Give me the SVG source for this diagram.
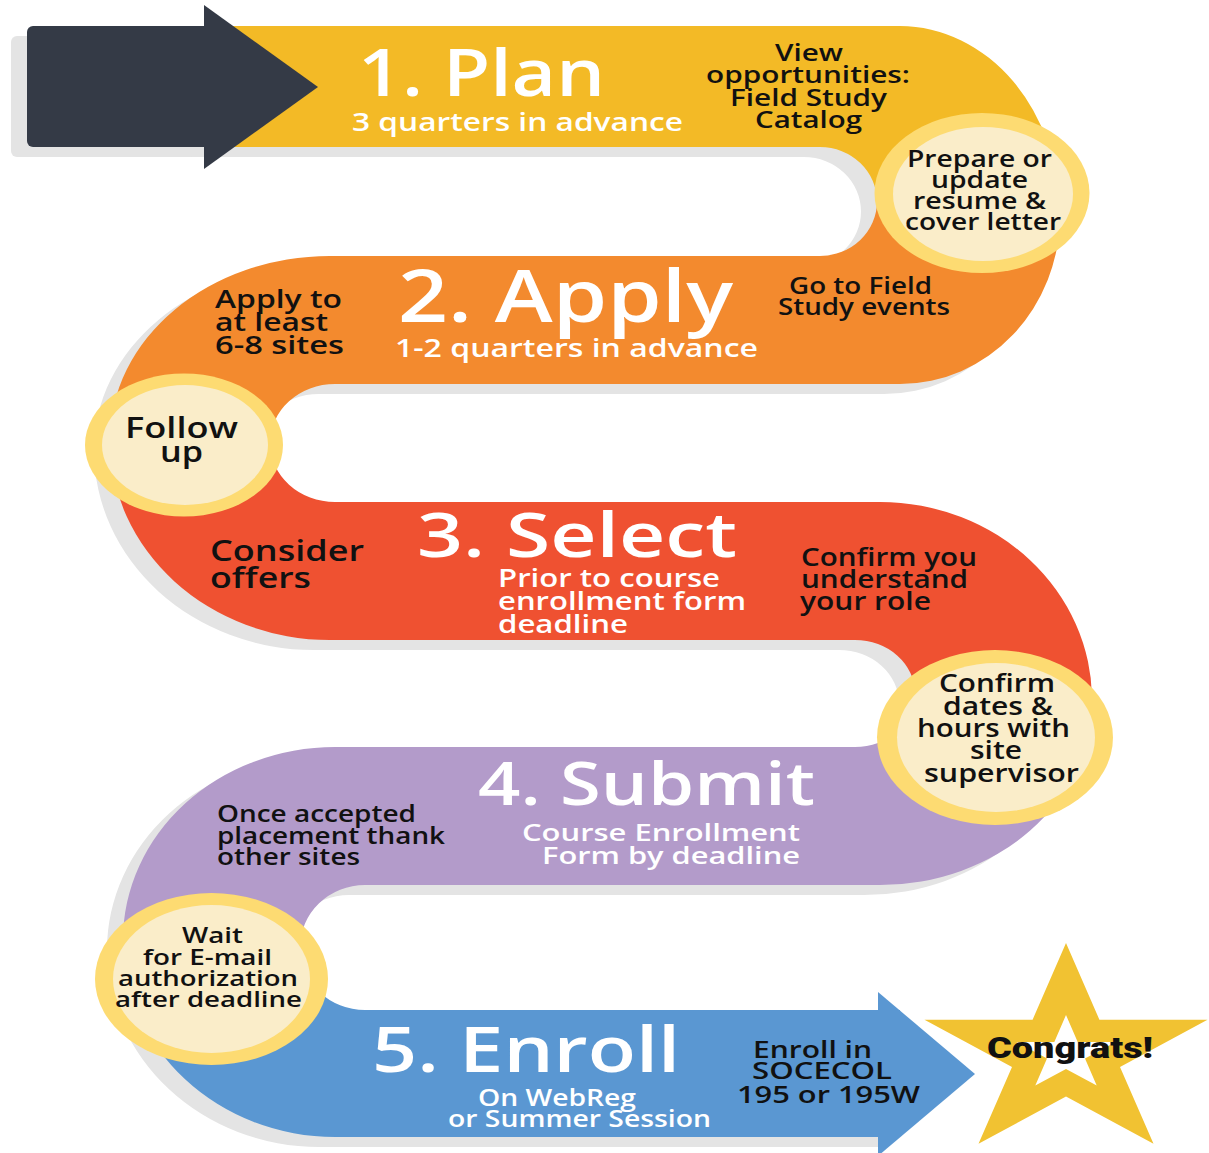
<svg xmlns="http://www.w3.org/2000/svg" xmlns:xlink="http://www.w3.org/1999/xlink" width="1209" height="1153" viewBox="0 0 1209 1153">
<style>
text{font-family:"Open Sans","Noto Sans","Liberation Sans",sans-serif;font-weight:600}
.w{fill:#ffffff}
.k{fill:#111111}
.ring{fill:#FDDB72}
.core{fill:#FAEDC9}
.shadow{fill:#E4E4E4}
</style>
<defs>
<path id="roadShape" d="M200,26 H900 A160,189 0 0 1 1060,215 A160,169 0 0 1 900,384 H335 A65,59 0 0 0 335,502 H880 A212,198 0 0 1 1092,700 A212,185 0 0 1 880,885 H365 A65,62.5 0 0 0 365,1010 H900 V1137 H335 A212,197 0 0 1 123,940 A212,193 0 0 1 335,747 H855 A60,53.5 0 0 0 855,640 H330 A220,200 0 0 1 110,440 A220,184 0 0 1 330,256 H820 A57,54.5 0 0 0 820,147 H200 Z"/>
<clipPath id="c1"><rect x="0" y="0" width="1209" height="200"/></clipPath>
<clipPath id="c2"><rect x="0" y="200" width="1209" height="245"/></clipPath>
<clipPath id="c3"><rect x="0" y="445" width="1209" height="250"/></clipPath>
<clipPath id="c4"><rect x="0" y="695" width="1209" height="253"/></clipPath>
<clipPath id="c5"><rect x="0" y="948" width="1209" height="205"/></clipPath>
</defs>

<g id="road-shadow" class="shadow" transform="translate(-16,10)">
<use href="#roadShape" xlink:href="#roadShape"/>
<rect x="27" y="26" width="185" height="121" rx="6"/>
</g>

<g id="road-segments">
<g clip-path="url(#c1)"><use href="#roadShape" xlink:href="#roadShape" fill="#F3BA26"/></g>
<g clip-path="url(#c2)"><use href="#roadShape" xlink:href="#roadShape" fill="#F38A2E"/></g>
<g clip-path="url(#c3)"><use href="#roadShape" xlink:href="#roadShape" fill="#EF5131"/></g>
<g clip-path="url(#c4)"><use href="#roadShape" xlink:href="#roadShape" fill="#B39BCA"/></g>
<g clip-path="url(#c5)"><use href="#roadShape" xlink:href="#roadShape" fill="#5A97D2"/></g>
<polygon points="878,992 975,1074 878,1156" fill="#5A97D2"/>
</g>

<g id="start-arrow" fill="#343A46">
<rect x="27" y="26" width="185" height="121" rx="6"/>
<polygon points="204,5 318,87 204,169"/>
</g>

<g id="connectors"></g>

<g id="step1">
<text class="w" x="358" y="96" font-size="66" textLength="247" lengthAdjust="spacingAndGlyphs">1. Plan</text>
<text class="w" x="352" y="131" font-size="25" textLength="331" lengthAdjust="spacingAndGlyphs">3 quarters in advance</text>
</g>
<g id="note-view" class="k" font-size="23">
<text x="775" y="61" textLength="68" lengthAdjust="spacingAndGlyphs">View</text>
<text x="706" y="83" textLength="204" lengthAdjust="spacingAndGlyphs">opportunities:</text>
<text x="730" y="106" textLength="157" lengthAdjust="spacingAndGlyphs">Field Study</text>
<text x="755" y="128" textLength="107" lengthAdjust="spacingAndGlyphs">Catalog</text>
</g>
<g id="circle-resume">
<ellipse class="ring" cx="982" cy="193" rx="107.5" ry="80"/>
<ellipse class="core" cx="983" cy="194" rx="90" ry="67"/>
<g class="k" font-size="23">
<text x="907" y="167" textLength="145" lengthAdjust="spacingAndGlyphs">Prepare or</text>
<text x="931" y="188" textLength="97" lengthAdjust="spacingAndGlyphs">update</text>
<text x="913" y="209" textLength="133" lengthAdjust="spacingAndGlyphs">resume &amp;</text>
<text x="905" y="230" textLength="156" lengthAdjust="spacingAndGlyphs">cover letter</text>
</g>
</g>

<g id="step2">
<text class="w" x="398" y="322" font-size="72" textLength="335" lengthAdjust="spacingAndGlyphs">2. Apply</text>
<text class="w" x="395" y="357" font-size="26" textLength="363" lengthAdjust="spacingAndGlyphs">1-2 quarters in advance</text>
</g>
<g id="note-apply" class="k" font-size="25">
<text x="215" y="308" textLength="127" lengthAdjust="spacingAndGlyphs">Apply to</text>
<text x="215" y="331" textLength="113" lengthAdjust="spacingAndGlyphs">at least</text>
<text x="215" y="354" textLength="129" lengthAdjust="spacingAndGlyphs">6-8 sites</text>
</g>
<g id="note-events" class="k" font-size="23">
<text x="789" y="294" textLength="143" lengthAdjust="spacingAndGlyphs">Go to Field</text>
<text x="778" y="315" textLength="172" lengthAdjust="spacingAndGlyphs">Study events</text>
</g>
<g id="circle-follow">
<ellipse class="ring" cx="184" cy="445" rx="99" ry="71.5"/>
<ellipse class="core" cx="185" cy="445" rx="83" ry="60"/>
<g class="k" font-size="29">
<text x="125" y="438" textLength="113" lengthAdjust="spacingAndGlyphs">Follow</text>
<text x="160" y="462" textLength="43" lengthAdjust="spacingAndGlyphs">up</text>
</g>
</g>

<g id="step3">
<text class="w" x="417" y="557" font-size="62" textLength="320" lengthAdjust="spacingAndGlyphs">3. Select</text>
<g class="w" font-size="25">
<text x="498" y="587" textLength="222" lengthAdjust="spacingAndGlyphs">Prior to course</text>
<text x="498" y="610" textLength="248" lengthAdjust="spacingAndGlyphs">enrollment form</text>
<text x="498" y="633" textLength="130" lengthAdjust="spacingAndGlyphs">deadline</text>
</g>
</g>
<g id="note-offers" class="k" font-size="29">
<text x="210" y="561" textLength="154" lengthAdjust="spacingAndGlyphs">Consider</text>
<text x="210" y="588" textLength="101" lengthAdjust="spacingAndGlyphs">offers</text>
</g>
<g id="note-role" class="k" font-size="25">
<text x="801" y="566" textLength="176" lengthAdjust="spacingAndGlyphs">Confirm you</text>
<text x="801" y="588" textLength="167" lengthAdjust="spacingAndGlyphs">understand</text>
<text x="800" y="610" textLength="131" lengthAdjust="spacingAndGlyphs">your role</text>
</g>
<g id="circle-dates">
<ellipse class="ring" cx="995" cy="737.5" rx="118" ry="87.5"/>
<ellipse class="core" cx="996" cy="737.5" rx="99" ry="74.5"/>
<g class="k" font-size="25">
<text x="939" y="692" textLength="116" lengthAdjust="spacingAndGlyphs">Confirm</text>
<text x="943" y="715" textLength="110" lengthAdjust="spacingAndGlyphs">dates &amp;</text>
<text x="917" y="737" textLength="153" lengthAdjust="spacingAndGlyphs">hours with</text>
<text x="970" y="759" textLength="52" lengthAdjust="spacingAndGlyphs">site</text>
<text x="924" y="782" textLength="155" lengthAdjust="spacingAndGlyphs">supervisor</text>
</g>
</g>

<g id="step4">
<text class="w" x="478" y="805" font-size="60" textLength="337" lengthAdjust="spacingAndGlyphs">4. Submit</text>
<g class="w" font-size="24">
<text x="522" y="841" textLength="278" lengthAdjust="spacingAndGlyphs">Course Enrollment</text>
<text x="542" y="864" textLength="258" lengthAdjust="spacingAndGlyphs">Form by deadline</text>
</g>
</g>
<g id="note-thank" class="k" font-size="23">
<text x="217" y="822" textLength="199" lengthAdjust="spacingAndGlyphs">Once accepted</text>
<text x="217" y="844" textLength="228" lengthAdjust="spacingAndGlyphs">placement thank</text>
<text x="217" y="865" textLength="143" lengthAdjust="spacingAndGlyphs">other sites</text>
</g>
<g id="circle-wait">
<ellipse class="ring" cx="211.5" cy="979" rx="116.5" ry="86"/>
<ellipse class="core" cx="211.5" cy="979" rx="98.5" ry="74"/>
<g class="k" font-size="22">
<text x="182" y="943" textLength="61" lengthAdjust="spacingAndGlyphs">Wait</text>
<text x="143" y="965" textLength="129" lengthAdjust="spacingAndGlyphs">for E-mail</text>
<text x="118" y="986" textLength="180" lengthAdjust="spacingAndGlyphs">authorization</text>
<text x="115" y="1007" textLength="187" lengthAdjust="spacingAndGlyphs">after deadline</text>
</g>
</g>

<g id="step5">
<text class="w" x="372" y="1072" font-size="63" textLength="308" lengthAdjust="spacingAndGlyphs">5. Enroll</text>
<g class="w" font-size="23">
<text x="478" y="1106" textLength="158" lengthAdjust="spacingAndGlyphs">On WebReg</text>
<text x="448" y="1127" textLength="263" lengthAdjust="spacingAndGlyphs">or Summer Session</text>
</g>
</g>
<g id="note-socecol" class="k" font-size="24">
<text x="753" y="1058" textLength="119" lengthAdjust="spacingAndGlyphs">Enroll in</text>
<text x="752" y="1079" textLength="140" lengthAdjust="spacingAndGlyphs">SOCECOL</text>
<text x="737" y="1103" textLength="183" lengthAdjust="spacingAndGlyphs">195 or 195W</text>
</g>

<g id="congrats">
<path fill="#F1C232" fill-rule="evenodd" d="M1066,943 L1099.4,1019.7 L1207.5,1019.7 L1120,1067.1 L1153.5,1143.8 L1066,1096.4 L978.5,1143.8 L1012,1067.1 L924.5,1019.7 L1032.6,1019.7 Z M1066,1015 L1077.7,1041.9 L1115.7,1041.9 L1085,1058.6 L1096.7,1085.6 L1066,1068.9 L1035.3,1085.6 L1047,1058.6 L1016.3,1041.9 L1054.3,1041.9 Z"/>
<text x="987" y="1058" font-size="30" textLength="166" lengthAdjust="spacingAndGlyphs" style="font-family:Roboto,'Liberation Sans',sans-serif;font-weight:900" fill="#111111">Congrats!</text>
</g>
</svg>
